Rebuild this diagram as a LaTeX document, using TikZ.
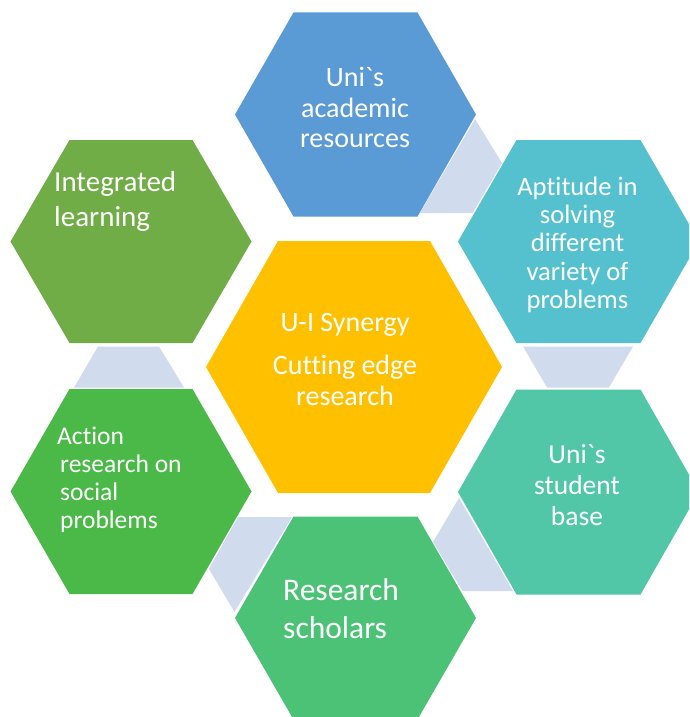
\documentclass[tikz,border=0pt]{standalone}
\usepackage{fontspec}
\newfontfamily\carl{Carlito}[Ligatures=CommonOff]
\definecolor{hexTop}{HTML}{5B9BD5}
\definecolor{hexUR}{HTML}{56C1CE}
\definecolor{hexLR}{HTML}{51C7A8}
\definecolor{hexBot}{HTML}{4CC276}
\definecolor{hexLL}{HTML}{4AB948}
\definecolor{hexUL}{HTML}{70AD47}
\definecolor{hexMid}{HTML}{FFC000}
\definecolor{connGrey}{HTML}{D1DBEE}
\newcommand\hexfill[6]{%
  \fill[#1] ({#2-#4},#3) -- ({#2-#5},{#3-#6}) -- ({#2+#5},{#3-#6}) -- ({#2+#4},#3)
    -- ({#2+#5},{#3+#6}) -- ({#2-#5},{#3+#6}) -- cycle;}
\tikzset{
  lbl/.style={text=white, inner sep=0pt, anchor=base},
  lblw/.style={text=white, inner sep=0pt, anchor=base west},
  conn/.style={fill=connGrey},
}
\begin{document}
\begin{tikzpicture}[x=1pt,y=-1pt]
\useasboundingbox (0,0) rectangle (689,717);
\fill[white] (0,0) rectangle (689,717);
\clip (0,0) rectangle (689,717);
% connectors
\fill[conn] (475,119) -- (502,163) -- (472.5,213) -- (420,213) -- cycle;
\fill[conn] (523,346.5) -- (633,346.5) -- (609,387.5) -- (547,387.5) -- cycle;
\fill[conn] (459,498) -- (433,542) -- (462.5,591) -- (513,591) -- cycle;
\fill[conn] (238,517) -- (292,517) -- (234.5,612) -- (209,569) -- cycle;
\fill[conn] (98,346.5) -- (159,346.5) -- (184,387.5) -- (74,387.5) -- cycle;
% hexagons
\hexfill{hexTop}{355.5}{114.5}{120.5}{62}{102}
\hexfill{hexUR}{578.5}{241.5}{120.5}{62}{101.5}
\hexfill{hexLR}{578.5}{492}{120.5}{62}{102.5}
\hexfill{hexBot}{355.5}{618}{120.5}{62}{101.5}
\hexfill{hexLL}{131}{491.5}{120.5}{61.5}{102.5}
\hexfill{hexUL}{131}{241.5}{120.5}{61.5}{101.5}
\hexfill{hexMid}{354}{367}{148}{76}{126}
% texts
\begin{scope}[font=\carl\fontsize{28}{30}\selectfont]
\node[lbl] (top1) at (355,86) {Uni`s};
\node[lbl] (top2) at (355,117) {academic};
\node[lbl] (top3) at (355,147.5) {resources};
\end{scope}
\begin{scope}[font=\carl\fontsize{26.6}{28}\selectfont]
\node[lbl] (ur1) at (577.5,195) {Aptitude in};
\node[lbl] (ur2) at (577.5,223.3) {solving};
\node[lbl] (ur3) at (577.5,251.6) {different};
\node[lbl] (ur4) at (577.5,280) {variety of};
\node[lbl] (ur5) at (577.5,308.3) {problems};
\end{scope}
\begin{scope}[font=\carl\fontsize{27.5}{30}\selectfont]
\node[lbl] (lr1) at (577,463) {Uni`s};
\node[lbl] (lr2) at (577,494) {student};
\node[lbl] (lr3) at (577,525) {base};
\end{scope}
\begin{scope}[font=\carl\fontsize{31.5}{38}\selectfont]
\node[lblw] (bt1) at (283,600) {Research};
\node[lblw] (bt2) at (283,638) {scholars};
\end{scope}
\begin{scope}[font=\carl\fontsize{29}{35}\selectfont]
\node[lblw] (ul1) at (54,191.7) {Integrated};
\node[lblw] (ul2) at (54,226.7) {learning};
\end{scope}
\begin{scope}[font=\carl\fontsize{25.5}{28}\selectfont]
\node[lblw] (ll1) at (57,444) {Action};
\node[lblw] (ll2) at (60,472.7) {research on};
\node[lblw] (ll3) at (60,500) {social};
\node[lblw] (ll4) at (60,528) {problems};
\end{scope}
\begin{scope}[font=\carl\fontsize{28}{30}\selectfont]
\node[lbl] (mid1) at (345,331.7) {U-I Synergy};
\node[lbl] (mid2) at (345,374) {Cutting edge};
\node[lbl] (mid3) at (345,405) {research};
\end{scope}
\end{tikzpicture}
\end{document}
